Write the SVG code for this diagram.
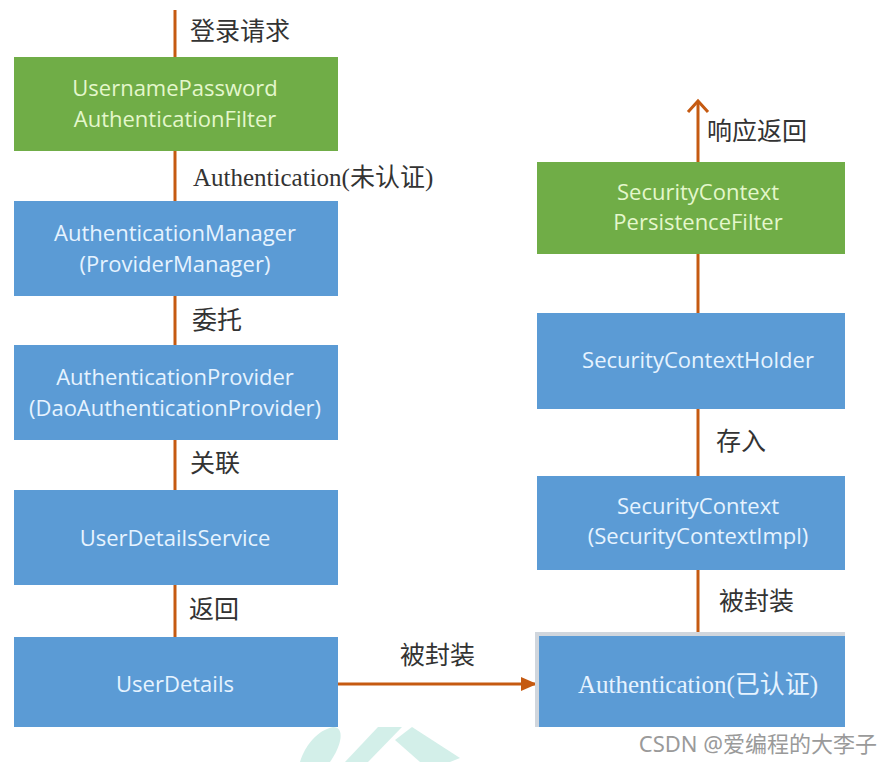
<svg xmlns="http://www.w3.org/2000/svg" width="891" height="762" viewBox="0 0 891 762">
<defs>
<style>
.g{fill:#70ad47}
.b{fill:#5b9bd5}
.tg{font-family:"Open Sans","Noto Sans",sans-serif;font-size:22px;fill:#e4f7cc;text-anchor:middle}
.tb{font-family:"Open Sans","Noto Sans",sans-serif;font-size:22px;fill:#e6f3ff;text-anchor:middle}
.lbl{font-family:"Liberation Serif","Noto Sans CJK SC",serif;font-size:25px;fill:#333}
.ser{font-family:"Liberation Serif","Noto Sans CJK SC",serif;font-size:25px;fill:#e6f3ff;text-anchor:middle}
.ln{stroke:#c55a11;stroke-width:3;fill:none}
</style>
<marker id="tri" markerWidth="16" markerHeight="14" refX="15" refY="7" orient="auto" markerUnits="userSpaceOnUse" viewBox="0 0 16 14">
<path d="M0,0 L16,7 L0,14 z" fill="#c55a11"/>
</marker>
</defs>
<rect width="891" height="762" fill="#fff"/>
<g id="watermark" fill="#d3efe9">
<path d="M300,762 C305,745 318,730 333,727 C345,727 342,745 330,762 z"/>
<path d="M345,762 L378,727 L402,727 L368,762 z"/>
<path d="M395,740 L412,727 L460,758 L450,762 L420,762 z"/>
</g>
<g id="connectors">
<line class="ln" x1="175" y1="10" x2="175" y2="57"/>
<line class="ln" x1="175" y1="151" x2="175" y2="201"/>
<line class="ln" x1="175" y1="296" x2="175" y2="345"/>
<line class="ln" x1="175" y1="440" x2="175" y2="490"/>
<line class="ln" x1="175" y1="585" x2="175" y2="637"/>
<line class="ln" x1="338" y1="684" x2="536" y2="684" marker-end="url(#tri)"/>
<line class="ln" x1="698" y1="634" x2="698" y2="570"/>
<line class="ln" x1="698" y1="476" x2="698" y2="409"/>
<line class="ln" x1="698" y1="313" x2="698" y2="254"/>
<line class="ln" x1="698" y1="162" x2="698" y2="102"/>
<path class="ln" d="M688,112 L698,101 L708,112"/>
<text class="lbl" x="190" y="40">登录请求</text>
<text class="lbl" x="193" y="186">Authentication(未认证)</text>
<text class="lbl" x="192" y="329">委托</text>
<text class="lbl" x="190" y="472">关联</text>
<text class="lbl" x="189" y="618">返回</text>
<text class="lbl" x="400" y="664">被封装</text>
<text class="lbl" x="707" y="140">响应返回</text>
<text class="lbl" x="716" y="450">存入</text>
<text class="lbl" x="719" y="610">被封装</text>
</g>
<g id="n1"><rect class="g" x="14" y="57" width="324" height="94"/><text class="tg" x="175" y="96">UsernamePassword</text><text class="tg" x="175" y="127">AuthenticationFilter</text></g>
<g id="n2"><rect class="b" x="14" y="201" width="324" height="95"/><text class="tb" x="175" y="241">AuthenticationManager</text><text class="tb" x="175" y="272">(ProviderManager)</text></g>
<g id="n3"><rect class="b" x="14" y="345" width="324" height="95"/><text class="tb" x="175" y="385">AuthenticationProvider</text><text class="tb" x="175" y="416">(DaoAuthenticationProvider)</text></g>
<g id="n4"><rect class="b" x="14" y="490" width="324" height="95"/><text class="tb" x="175" y="546">UserDetailsService</text></g>
<g id="n5"><rect class="b" x="14" y="637" width="324" height="90"/><text class="tb" x="175" y="692">UserDetails</text></g>
<g id="n6"><rect class="g" x="537" y="162" width="308" height="92"/><text class="tg" x="698" y="200">SecurityContext</text><text class="tg" x="698" y="230">PersistenceFilter</text></g>
<g id="n7"><rect class="b" x="537" y="313" width="308" height="96"/><text class="tb" x="698" y="368">SecurityContextHolder</text></g>
<g id="n8"><rect class="b" x="537" y="476" width="308" height="94"/><text class="tb" x="698" y="514">SecurityContext</text><text class="tb" x="698" y="544">(SecurityContextImpl)</text></g>
<g id="n9"><path d="M537,727 L537,634 L845,634" stroke="#d0d6dd" stroke-width="4" fill="none"/><rect class="b" x="539" y="636" width="306" height="91"/><text class="ser" x="698" y="693">Authentication(已认证)</text></g>
<text x="877" y="752" text-anchor="end" font-family="'Noto Sans','Noto Sans CJK SC',sans-serif" font-size="22" fill="#9a9a9a">CSDN @爱编程的大李子</text>
</svg>
